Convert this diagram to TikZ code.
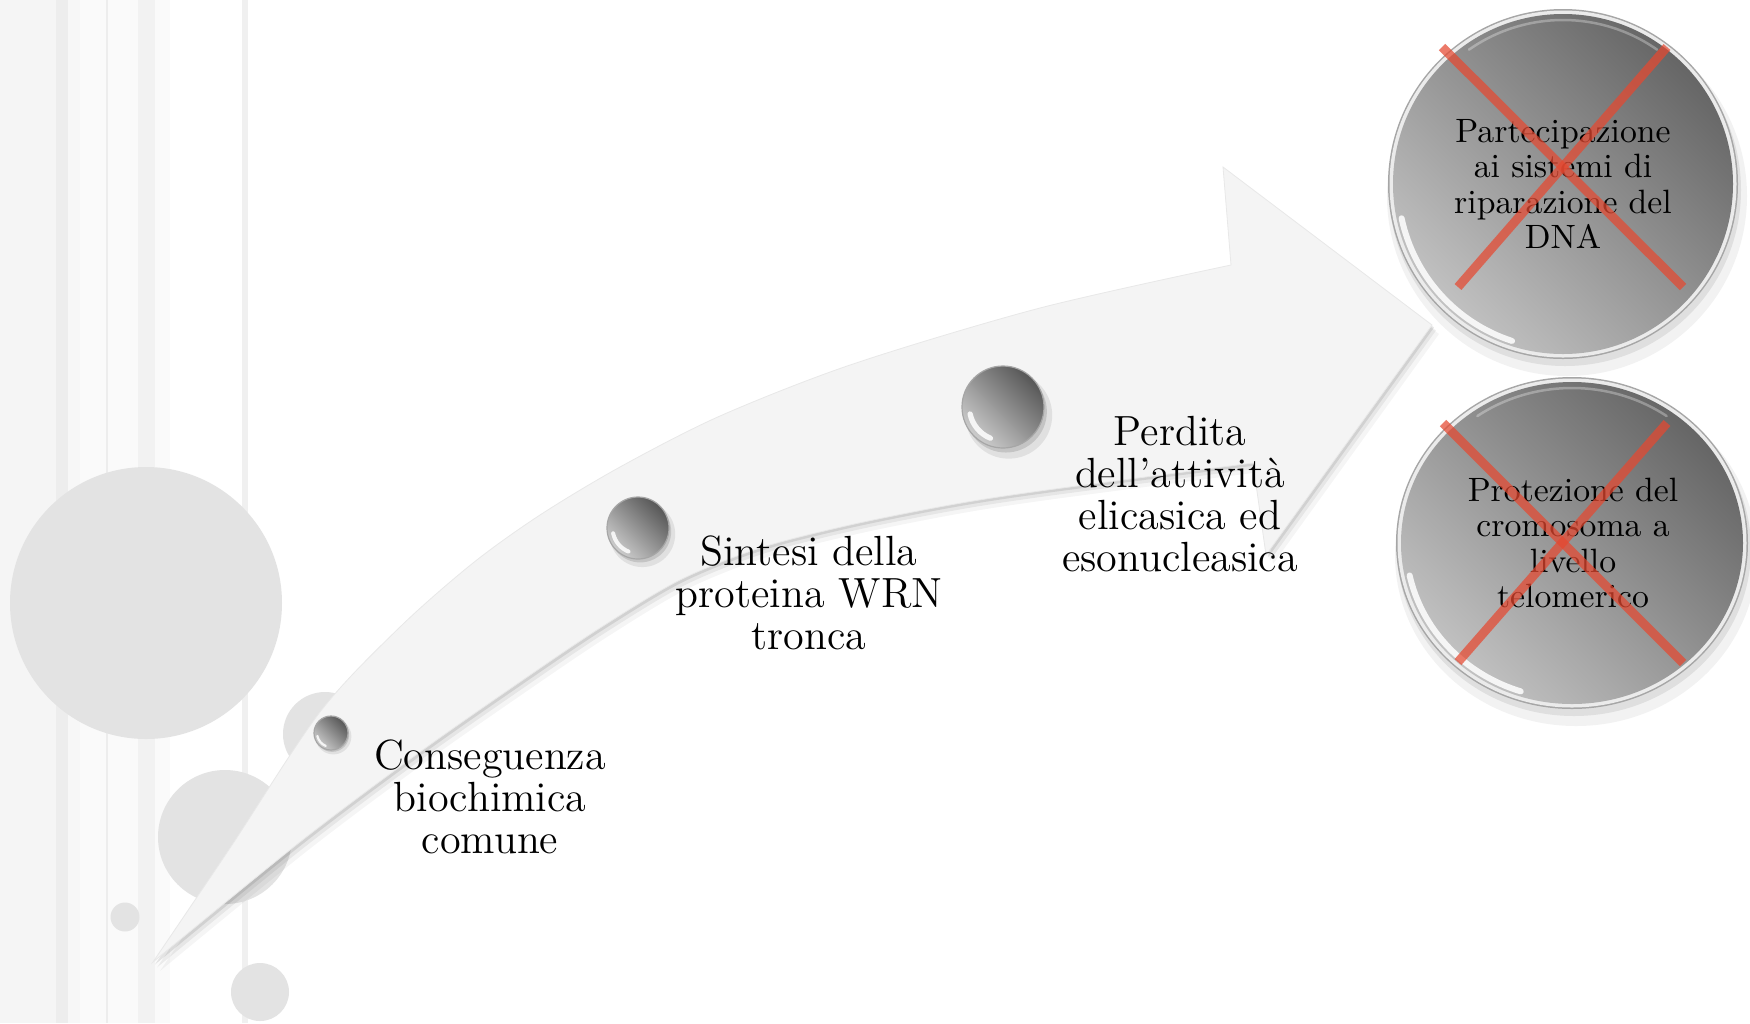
\documentclass[tikz,border=0pt]{standalone}
\usepackage{fontspec}
\usetikzlibrary{calc}
\definecolor{xred}{RGB}{230,72,48}
\definecolor{bgcirc}{RGB}{227,227,227}
\definecolor{arrowfill}{RGB}{244,244,244}
\newcommand{\arrowshape}{plot[smooth,tension=0.5] coordinates {(153,962) (230,848) (320,712) (400,627) (473,563) (540,515) (620,467) (720,416) (853,364) (1040,308) (1231,265)} -- (1223,167) -- (1432,325) -- (1266,555) -- (1253,463) -- plot[smooth,tension=0.5] coordinates {(1253,463) (1040,491) (950,505) (850,525) (760,548) (680,580) (600,628) (520,682) (420,752) (300,842) (153,962)} -- cycle}
\newcommand{\glassball}[2]{%
\begin{scope}[shift={(#1)}]
\fill[black,opacity=0.08] (0.14*#2,0.20*#2) circle (1.06*#2);
\fill[black,opacity=0.12] (0.07*#2,0.11*#2) circle (#2);
\shade[top color=black!66, bottom color=black!20, shading angle=-45] (0,0) circle (#2);
\draw[white,opacity=0.85,line width=0.13*#2*0.1mm,line cap=round] (112:0.82*#2) arc[start angle=112, end angle=168, radius=0.82*#2];
\draw[black!35,line width=0.12mm] (0,0) circle (#2);
\end{scope}}
\newcommand{\bigdisc}[3]{%
\begin{scope}[shift={(#1)}]
\fill[black,opacity=0.05] (4,12) ellipse [x radius=#2+5, y radius=#3+5];
\fill[black,opacity=0.08] (2,6) ellipse [x radius=#2+1, y radius=#3+1];
\fill[black!35] (0,0) ellipse [x radius=#2, y radius=#3];
\fill[black!8] (0,0) ellipse [x radius=#2-1.5, y radius=#3-1.5];
\shade[top color=black!60, bottom color=black!24, shading angle=-45] (0,0) ellipse [x radius=#2-5, y radius=#3-5];
\draw[white,opacity=0.85,line width=0.6mm,line cap=round] (108:#2-10 and #3-10) arc[start angle=108, end angle=168, x radius=#2-10, y radius=#3-10];
\draw[white,opacity=0.3,line width=0.25mm,line cap=round] (235:#2-11 and #3-11) arc[start angle=235, end angle=305, x radius=#2-11, y radius=#3-11];
\end{scope}}
\tikzset{
  steptext/.style={align=center, inner sep=0pt, font=\fontsize{12}{12}\selectfont},
  disctext/.style={align=center, inner sep=0pt, font=\fontsize{9.6}{10}\selectfont},
  cross/.style={xred, opacity=0.72, line width=0.9mm}
}
\begin{document}
\begin{tikzpicture}[x=0.1mm,y=-0.1mm]
\useasboundingbox (0,0) rectangle (1750,1023);
\fill[white] (0,0) rectangle (1750,1023);
% background stripes
\fill[black!4] (0,0) rectangle (56,1023);
\fill[black!7] (56,0) rectangle (68,1023);
\fill[black!3] (68,0) rectangle (80,1023);
\fill[black!2] (80,0) rectangle (106,1023);
\fill[black!7] (106,0) rectangle (107.5,1023);
\fill[black!2] (107.5,0) rectangle (138,1023);
\fill[black!5] (138,0) rectangle (155,1023);
\fill[black!2] (155,0) rectangle (170,1023);
\fill[black!6] (242,0) rectangle (248,1023);
% background discs
\fill[bgcirc] (146,603) circle (136);
\fill[bgcirc] (225,837) circle (67);
\fill[bgcirc] (125,917) circle (14.5);
\fill[bgcirc] (260,992) circle (29);
\fill[bgcirc] (325,734) circle (42);
% arrow with soft shadow
\fill[black,opacity=0.04,shift={(7,9)}] \arrowshape;
\fill[black,opacity=0.06,shift={(4,5.5)}] \arrowshape;
\fill[black,opacity=0.09,shift={(2,2.5)}] \arrowshape;
\fill[arrowfill,draw=black!9,line width=0.08mm] \arrowshape;
% spheres on the arrow
\coordinate (s1) at (331,733);
\coordinate (s2) at (638,528);
\coordinate (s3) at (1003,407);
\glassball{s1}{17}
\glassball{s2}{31}
\glassball{s3}{41}
% step labels
\node[steptext] (t1) at (490,797) {Conseguenza\\biochimica\\comune};
\node[steptext] (t2) at (809,593) {Sintesi della\\proteina WRN\\tronca};
\node[steptext] (t3) at (1180,494) {Perdita\\dell’attività\\elicasica ed\\esonucleasica};
% big discs
\coordinate (c1) at (1563,184);
\coordinate (c2) at (1572,543);
\bigdisc{c1}{175}{175}
\bigdisc{c2}{176}{166}
\node[disctext] (d1) at (1563,184) {Partecipazione\\ai sistemi di\\riparazione del\\DNA};
\node[disctext] (d2) at (1573,543) {Protezione del\\cromosoma a\\livello\\telomerico};
% crosses
\coordinate (x1a) at (1442,47);
\coordinate (x1b) at (1683,287);
\coordinate (x1c) at (1667,47);
\coordinate (x1d) at (1458,287);
\coordinate (x2a) at (1443,423);
\coordinate (x2b) at (1683,663);
\coordinate (x2c) at (1667,423);
\coordinate (x2d) at (1458,662);
\draw[cross] (x1a) -- (x1b);
\draw[cross] (x1c) -- (x1d);
\draw[cross] (x2a) -- (x2b);
\draw[cross] (x2c) -- (x2d);
\end{tikzpicture}
\end{document}
